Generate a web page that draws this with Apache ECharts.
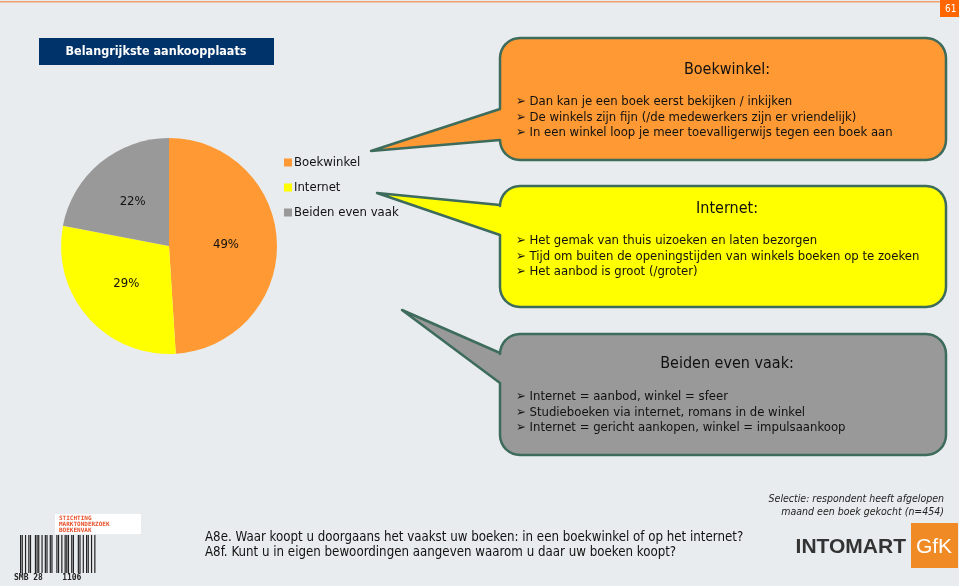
<!DOCTYPE html>
<html>
<head>
<meta charset="utf-8">
<script src="https://cdn.jsdelivr.net/npm/echarts@6/dist/echarts.min.js"></script>
<style>
html, body { margin: 0; padding: 0; background: #E9ECEE; }
#main { width: 959px; height: 586px; }
</style>
</head>
<body>
<div id="main"></div>
<script>
var categories = ['Boekwinkel', 'Internet', 'Beiden even vaak']
var values = [49, 29, 22]
var colors = ['#FF9933', '#FFFF00', '#999999']

var boekwinkelRedenen = [
    'Dan kan je een boek eerst bekijken / inkijken',
    'De winkels zijn fijn (/de medewerkers zijn er vriendelijk)',
    'In een winkel loop je meer toevalligerwijs tegen een boek aan'
]
var internetRedenen = [
    'Het gemak van thuis uizoeken en laten bezorgen',
    'Tijd om buiten de openingstijden van winkels boeken op te zoeken',
    'Het aanbod is groot (/groter)'
]
var beidenRedenen = [
    'Internet = aanbod, winkel = sfeer',
    'Studieboeken via internet, romans in de winkel',
    'Internet = gericht aankopen, winkel = impulsaankoop'
]

var FONT = '"DejaVu Sans Condensed", "Liberation Sans", sans-serif'
var myChart = echarts.init(document.getElementById('main'))

function arcPts(pts, cx, cy, r, a0, a1) {
    for (var s = 0; s <= 8; s++) {
        var a = (a0 + (a1 - a0) * s / 8) * Math.PI / 180
        pts.push([cx + r * Math.cos(a), cy + r * Math.sin(a)])
    }
}

// rounded box with a wedge pointing left, as one polygon
function calloutPoints(x0, y0, x1, y1, r, b1, b2, tx, ty) {
    var pts = []
    arcPts(pts, x1 - r, y0 + r, r, -90, 0)
    arcPts(pts, x1 - r, y1 - r, r, 0, 90)
    arcPts(pts, x0 + r, y1 - r, r, 90, 180)
    pts.push([x0, b2])
    pts.push([tx, ty])
    pts.push([x0, b1])
    arcPts(pts, x0 + r, y0 + r, r, 180, 270)
    return pts
}

function callout(fill, y0, y1, b1, b2, tx, ty, title, titleY, lines, lineY) {
    var els = [{
        type: 'polygon',
        shape: { points: calloutPoints(500, y0, 946, y1, 20, b1, b2, tx, ty) },
        style: { fill: fill, stroke: '#3D6B5C', lineWidth: 2.5, lineJoin: 'round' },
        z: 1
    }, {
        type: 'text',
        x: 727, y: titleY,
        style: { text: title, fill: '#111', font: '16px ' + FONT, textAlign: 'center', textVerticalAlign: 'middle' },
        z: 2
    }]
    for (var i = 0; i < lines.length; i++) {
        els.push({
            type: 'text',
            x: 516, y: lineY + i * 15.3,
            style: { text: '\u27A2 ' + lines[i], fill: '#111', font: '13px ' + FONT, textVerticalAlign: 'middle' },
            z: 2
        })
    }
    return els
}

var graphics = [
    { type: 'rect', shape: { x: 0, y: 1, width: 959, height: 1.5 }, style: { fill: '#F2A070' } },
    { type: 'rect', shape: { x: 940, y: 0, width: 19, height: 17 }, style: { fill: '#FF6600' } },
    { type: 'text', x: 945, y: 9, style: { text: '61', fill: '#fff', font: '10px ' + FONT, textVerticalAlign: 'middle' } },
    { type: 'rect', shape: { x: 39, y: 38, width: 235, height: 27 }, style: { fill: '#00336A' } },
    { type: 'text', x: 156, y: 52, style: { text: 'Belangrijkste aankoopplaats', fill: '#fff', font: 'bold 12.5px ' + FONT, textAlign: 'center', textVerticalAlign: 'middle' } },
    { type: 'text', x: 944, y: 499, style: { text: 'Selectie: respondent heeft afgelopen', fill: '#222', font: 'italic 10.5px ' + FONT, textAlign: 'right', textVerticalAlign: 'middle' } },
    { type: 'text', x: 944, y: 512, style: { text: 'maand een boek gekocht (n=454)', fill: '#222', font: 'italic 10.5px ' + FONT, textAlign: 'right', textVerticalAlign: 'middle' } },
    { type: 'text', x: 205, y: 538, style: { text: 'A8e. Waar koopt u doorgaans het vaakst uw boeken: in een boekwinkel of op het internet?', fill: '#111', font: '13.2px ' + FONT, textVerticalAlign: 'middle' } },
    { type: 'text', x: 205, y: 553, style: { text: 'A8f. Kunt u in eigen bewoordingen aangeven waarom u daar uw boeken koopt?', fill: '#111', font: '13.2px ' + FONT, textVerticalAlign: 'middle' } },
    { type: 'text', x: 906, y: 547, style: { text: 'INTOMART', fill: '#333', font: 'bold 21px "Liberation Sans", sans-serif', textAlign: 'right', textVerticalAlign: 'middle' } },
    { type: 'rect', shape: { x: 911, y: 523, width: 47, height: 45 }, style: { fill: '#F08A24' } },
    { type: 'text', x: 934, y: 547, style: { text: 'GfK', fill: '#fff', font: '21px "Liberation Sans", sans-serif', textAlign: 'center', textVerticalAlign: 'middle' } },
    { type: 'rect', shape: { x: 55, y: 514, width: 86, height: 20 }, style: { fill: '#fff' } },
    { type: 'text', x: 59, y: 518, style: { text: 'STICHTING', fill: '#E8502A', font: 'bold 6px monospace', textVerticalAlign: 'middle' } },
    { type: 'text', x: 59, y: 524, style: { text: 'MARKTONDERZOEK', fill: '#E8502A', font: 'bold 6px monospace', textVerticalAlign: 'middle' } },
    { type: 'text', x: 59, y: 530, style: { text: 'BOEKENVAK', fill: '#E8502A', font: 'bold 6px monospace', textVerticalAlign: 'middle' } },
    { type: 'text', x: 14, y: 578, style: { text: 'SMB 28    1106', fill: '#222', font: 'bold 8px monospace', textVerticalAlign: 'middle' } }
]

// barcode decoration
var bars = '1101011001110101101100110101110110011010110101'
for (var k = 0; k < bars.length; k++) {
    if (bars[k] === '1') {
        graphics.push({ type: 'rect', shape: { x: 20 + k * 1.65, y: 535, width: 1.2, height: 38 }, style: { fill: '#222' } })
    }
}

graphics = graphics
    .concat(callout('#FF9933', 38, 160, 109, 140, 371, 151, 'Boekwinkel:', 70, boekwinkelRedenen, 102))
    .concat(callout('#FFFF00', 186, 307, 205, 235, 377, 193, 'Internet:', 209, internetRedenen, 241))
    .concat(callout('#999999', 334, 455, 353, 383, 402, 310, 'Beiden even vaak:', 364, beidenRedenen, 397))

var pieData = []
for (var i = 0; i < categories.length; i++) {
    pieData.push({ name: categories[i], value: values[i], itemStyle: { color: colors[i] } })
}

option = {
    backgroundColor: '#E9ECEE',
    animation: false,
    legend: {
        orient: 'vertical',
        left: 279,
        top: 151,
        icon: 'rect',
        itemWidth: 8,
        itemHeight: 8,
        itemGap: 12,
        textStyle: { fontFamily: FONT, fontSize: 13, color: '#111', padding: [0, 0, 0, -3] },
        data: categories
    },
    graphic: graphics,
    series: [{
        type: 'pie',
        center: [169, 246],
        radius: 108,
        startAngle: 90,
        clockwise: true,
        label: {
            position: 'inside',
            formatter: '{c}%',
            fontFamily: FONT,
            fontSize: 13,
            color: '#111'
        },
        labelLine: { show: false },
        emphasis: { disabled: true },
        data: pieData
    }]
}
myChart.setOption(option)
</script>
</body>
</html>
